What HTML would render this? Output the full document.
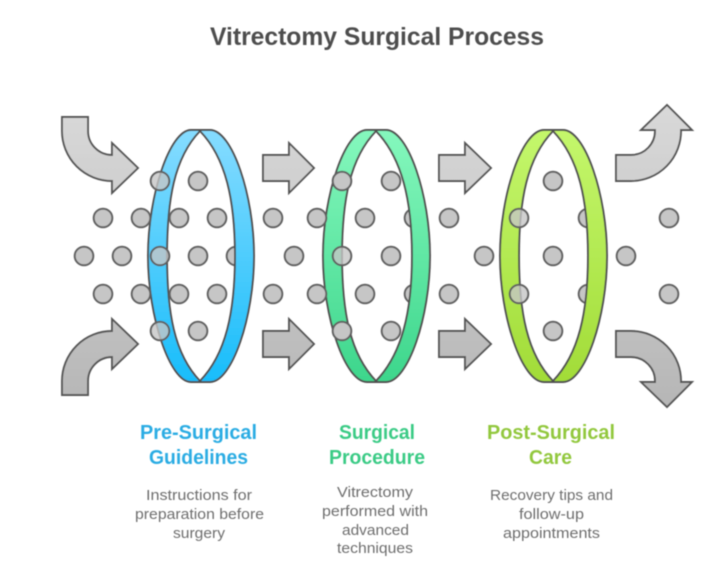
<!DOCTYPE html>
<html>
<head>
<meta charset="utf-8">
<style>
html,body{margin:0;padding:0;background:#fff;width:720px;height:569px;overflow:hidden}
svg{display:block}
text{font-family:"Liberation Sans",sans-serif}
.t{font-size:25px;font-weight:700;fill:#4d4d4d}
.l{font-size:20px;font-weight:700}
.b{font-size:14.5px;fill:#6e6e6e}
.d{fill:#c6c6c6;stroke:#606060;stroke-width:2}
.a{stroke:#555;stroke-width:1.9;stroke-linejoin:miter}
.r{stroke:#505050;stroke-width:1.9;fill-rule:evenodd}
</style>
</head>
<body>
<svg width="720" height="569" viewBox="0 0 720 569" xmlns="http://www.w3.org/2000/svg">
<defs>
<linearGradient id="ga" gradientUnits="userSpaceOnUse" x1="0" y1="105" x2="0" y2="407"><stop offset="0" stop-color="#d9d9d9"/><stop offset="1" stop-color="#b6b6b6"/></linearGradient>
<linearGradient id="g1" x1="0" y1="0" x2="0" y2="1"><stop offset="0" stop-color="#86dcff"/><stop offset="1" stop-color="#18bdfb"/></linearGradient>
<linearGradient id="g2" x1="0" y1="0" x2="0" y2="1"><stop offset="0" stop-color="#85f8bd"/><stop offset="1" stop-color="#3dd68c"/></linearGradient>
<linearGradient id="g3" x1="0" y1="0" x2="0" y2="1"><stop offset="0" stop-color="#c4f76c"/><stop offset="1" stop-color="#a2dc38"/></linearGradient>
<filter id="s" x="-5%" y="-5%" width="110%" height="110%"><feGaussianBlur stdDeviation="0.5"/></filter>
</defs>

<g filter="url(#s)">
<!-- dots clipped behind rings -->
<g class="d">
<circle cx="236" cy="256" r="9.3"/>
<circle cx="414" cy="218" r="9.3"/><circle cx="414" cy="294" r="9.3"/>
<circle cx="588" cy="218" r="9.3"/><circle cx="588" cy="294" r="9.3"/>
</g>

<!-- rings -->
<path class="r" fill="url(#g1)" d="M191,130 H210 C232,130 254,195 254,256 C254,317 232,382 210,382 H191 C170,382 148,317 148,256 C148,195 170,130 191,130 Z M200,131 C174,158 167,200 167,256 C167,312 174,354 200,381 C226,354 235,312 235,256 C235,200 226,158 200,131 Z"/>
<path class="r" fill="url(#g2)" d="M367,130 H386 C408,130 430,195 430,256 C430,317 408,382 386,382 H367 C345,382 323,317 323,256 C323,195 345,130 367,130 Z M376,131 C350,158 342,200 342,256 C342,312 350,354 376,381 C402,354 412,312 412,256 C412,200 402,158 376,131 Z"/>
<path class="r" fill="url(#g3)" d="M544,130 H563 C585,130 607,195 607,256 C607,317 585,382 563,382 H544 C522,382 500,317 500,256 C500,195 522,130 544,130 Z M553,131 C527,158 519,200 519,256 C519,312 527,354 553,381 C579,354 588,312 588,256 C588,200 579,158 553,131 Z"/>

<!-- dots on top -->
<g class="d">
<circle cx="160" cy="181" r="9.3" style="fill-opacity:.8"/><circle cx="198" cy="181" r="9.3"/>
<circle cx="342" cy="181" r="9.3"/><circle cx="391" cy="181" r="9.3"/><circle cx="553" cy="181" r="9.3"/>

<circle cx="103" cy="218" r="9.3"/><circle cx="141" cy="218" r="9.3"/><circle cx="179" cy="218" r="9.3"/><circle cx="217" cy="218" r="9.3"/>
<circle cx="273" cy="218" r="9.3"/><circle cx="317" cy="218" r="9.3"/><circle cx="365" cy="218" r="9.3"/><circle cx="449" cy="218" r="9.3"/>
<circle cx="519" cy="218" r="9.3" style="fill-opacity:.8"/><circle cx="669" cy="218" r="9.3"/>

<circle cx="84" cy="256" r="9.3"/><circle cx="122" cy="256" r="9.3"/><circle cx="160" cy="256" r="9.3" style="fill-opacity:.8"/><circle cx="198" cy="256" r="9.3"/>
<circle cx="294" cy="256" r="9.3"/><circle cx="342" cy="256" r="9.3" style="fill-opacity:.8"/><circle cx="391" cy="256" r="9.3"/>
<circle cx="484" cy="256" r="9.3"/><circle cx="553" cy="256" r="9.3"/><circle cx="626" cy="256" r="9.3"/>

<circle cx="103" cy="294" r="9.3"/><circle cx="141" cy="294" r="9.3"/><circle cx="179" cy="294" r="9.3"/><circle cx="217" cy="294" r="9.3"/>
<circle cx="273" cy="294" r="9.3"/><circle cx="317" cy="294" r="9.3"/><circle cx="365" cy="294" r="9.3"/><circle cx="449" cy="294" r="9.3"/>
<circle cx="519" cy="294" r="9.3" style="fill-opacity:.8"/><circle cx="669" cy="294" r="9.3"/>

<circle cx="160" cy="331" r="9.3" style="fill-opacity:.8"/><circle cx="198" cy="331" r="9.3"/>
<circle cx="342" cy="331" r="9.3"/><circle cx="391" cy="331" r="9.3"/><circle cx="553" cy="331" r="9.3"/>
</g>

<!-- arrows -->
<g class="a" fill="url(#ga)">
<path d="M62,117 H88 V131 A24,24 0 0 0 112,155 V143 L138,168 L112,193 V181 A50,50 0 0 1 62,131 Z"/>
<path d="M62,395 H88 V381 A24,24 0 0 1 112,357 V369 L138,344 L112,319 V331 A50,50 0 0 0 62,381 Z"/>
<path d="M263,155 H289 V143 L314,168 L289,193 V181 H263 Z"/>
<path d="M263,331 H289 V319 L314,344 L289,369 V357 H263 Z"/>
<path d="M439,155 H465 V143 L491,168 L465,193 V181 H439 Z"/>
<path d="M439,331 H465 V319 L491,344 L465,369 V357 H439 Z"/>
<path d="M616,155 H631 A24,24 0 0 0 655,130 H641 L667,105 L692,130 H681 A50,50 0 0 1 631,181 H616 Z"/>
<path d="M616,357 H631 A24,24 0 0 1 655,382 H641 L667,407 L692,382 H681 A50,50 0 0 0 631,331 H616 Z"/>
</g>

<!-- text -->
<text class="t" x="210" y="45" textLength="334" lengthAdjust="spacingAndGlyphs">Vitrectomy Surgical Process</text>

<g class="l" fill="#29ace3">
<text x="140" y="439" textLength="117" lengthAdjust="spacingAndGlyphs">Pre-Surgical</text>
<text x="149" y="464" textLength="99" lengthAdjust="spacingAndGlyphs">Guidelines</text>
</g>
<g class="l" fill="#3acb85">
<text x="339" y="439" textLength="76" lengthAdjust="spacingAndGlyphs">Surgical</text>
<text x="329" y="464" textLength="96" lengthAdjust="spacingAndGlyphs">Procedure</text>
</g>
<g class="l" fill="#92c83e">
<text x="487" y="439" textLength="128" lengthAdjust="spacingAndGlyphs">Post-Surgical</text>
<text x="529" y="464" textLength="43" lengthAdjust="spacingAndGlyphs">Care</text>
</g>

<g class="b">
<text x="146" y="500" textLength="106" lengthAdjust="spacingAndGlyphs">Instructions for</text>
<text x="135" y="519" textLength="129" lengthAdjust="spacingAndGlyphs">preparation before</text>
<text x="173" y="538" textLength="52" lengthAdjust="spacingAndGlyphs">surgery</text>
<text x="337" y="497" textLength="76" lengthAdjust="spacingAndGlyphs">Vitrectomy</text>
<text x="322" y="516" textLength="106" lengthAdjust="spacingAndGlyphs">performed with</text>
<text x="342" y="535" textLength="67" lengthAdjust="spacingAndGlyphs">advanced</text>
<text x="337" y="553" textLength="76" lengthAdjust="spacingAndGlyphs">techniques</text>
<text x="490" y="500" textLength="123" lengthAdjust="spacingAndGlyphs">Recovery tips and</text>
<text x="519" y="519" textLength="65" lengthAdjust="spacingAndGlyphs">follow-up</text>
<text x="503" y="538" textLength="97" lengthAdjust="spacingAndGlyphs">appointments</text>
</g>
</g>
</svg>
</body>
</html>
